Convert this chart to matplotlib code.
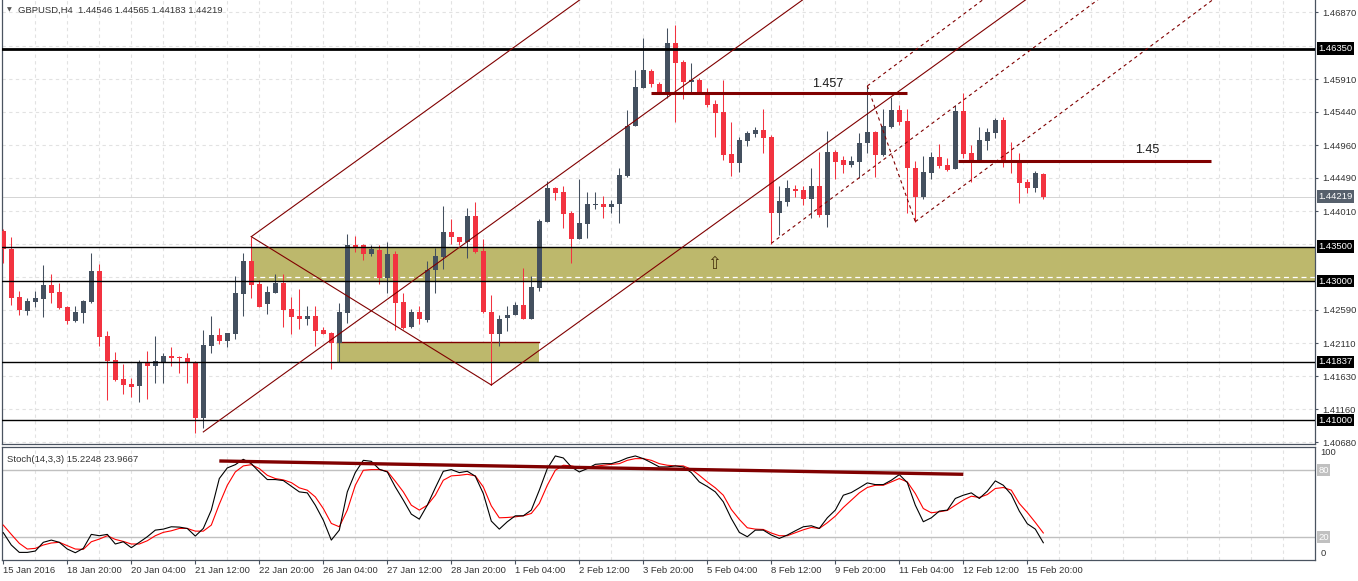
import numpy as np
import matplotlib
matplotlib.use('Agg')
import matplotlib.pyplot as plt
import matplotlib.transforms as mtrans

plt.rcParams['font.family'] = ['Liberation Sans', 'DejaVu Sans']

# ---------------- data (GBPUSD H4, bar index 0 = 15 Jan 2016 12:00) ----------------
opens = [1.43724, 1.43464, 1.42769, 1.42576, 1.42706, 1.42744, 1.42946, 1.42845, 1.42625, 1.42423,
         1.42547, 1.42706, 1.43148, 1.42212, 1.41866, 1.41592, 1.41520, 1.41496, 1.41842, 1.41784,
         1.41827, 1.41924, 1.41905, 1.41895, 1.41818, 1.41035, 1.42072, 1.42222, 1.42144, 1.42245,
         1.42821, 1.43292, 1.42960, 1.42665, 1.42835, 1.42975, 1.42600, 1.42500, 1.42452, 1.42500,
         1.42298, 1.42250, 1.42115, 1.42547, 1.43518, 1.43522, 1.43397, 1.43446, 1.43051, 1.43392,
         1.42701, 1.42345, 1.42557, 1.42442, 1.43158, 1.43354, 1.43709, 1.43633, 1.43569, 1.43944,
         1.43436, 1.42553, 1.42236, 1.42475, 1.42518, 1.42654, 1.42461, 1.42907, 1.43858, 1.44347,
         1.44285, 1.43983, 1.43613, 1.43829, 1.44102, 1.44112, 1.44065, 1.44108, 1.44516, 1.45236,
         1.45787, 1.46028, 1.45836, 1.45711, 1.46431, 1.46157, 1.45874, 1.45898, 1.45730, 1.45552,
         1.45437, 1.44832, 1.44707, 1.45024, 1.45120, 1.45178, 1.45082, 1.43978, 1.44146, 1.44328,
         1.44314, 1.44180, 1.44372, 1.43958, 1.44866, 1.44746, 1.44678, 1.44722, 1.44986, 1.45145,
         1.44822, 1.45225, 1.45466, 1.45308, 1.44626, 1.44218, 1.44563, 1.44785, 1.44674, 1.44616,
         1.45452, 1.44842, 1.44736, 1.45024, 1.45139, 1.45322, 1.44746, 1.44698, 1.44429, 1.44347,
         1.44546]
highs = [1.43752, 1.43642, 1.42860, 1.42754, 1.42860, 1.43234, 1.43104, 1.42979, 1.42644, 1.42644,
         1.42730, 1.43411, 1.43248, 1.42284, 1.41981, 1.41808, 1.41607, 1.41866, 1.41991, 1.42212,
         1.41971, 1.42049, 1.41924, 1.41962, 1.41847, 1.42298, 1.42500, 1.42327, 1.42259, 1.43076,
         1.43402, 1.43642, 1.43018, 1.42932, 1.43100, 1.43100, 1.42773, 1.42888, 1.42644, 1.42644,
         1.42345, 1.42273, 1.42683, 1.43680, 1.43652, 1.43536, 1.43518, 1.43518, 1.43561, 1.43436,
         1.42826, 1.42596, 1.42639, 1.43292, 1.43474, 1.44084, 1.43892, 1.43637, 1.44050, 1.44141,
         1.43604, 1.42802, 1.42518, 1.42644, 1.42701, 1.43186, 1.43076, 1.43892, 1.44448, 1.44362,
         1.44372, 1.44007, 1.44472, 1.44281, 1.44281, 1.44228, 1.44170, 1.44626, 1.45466, 1.46042,
         1.46503, 1.46052, 1.45869, 1.46647, 1.46690, 1.46186, 1.46143, 1.45922, 1.45778, 1.45610,
         1.45898, 1.45298, 1.45082, 1.45164, 1.45217, 1.45480, 1.45106, 1.44372, 1.44458, 1.44386,
         1.44372, 1.44626, 1.44866, 1.45164, 1.44890, 1.44804, 1.44804, 1.45130, 1.45812, 1.45168,
         1.45476, 1.45657, 1.45538, 1.45476, 1.44732, 1.44804, 1.44866, 1.44976, 1.44770, 1.45538,
         1.45706, 1.44962, 1.45221, 1.45211, 1.45355, 1.45361, 1.45010, 1.44851, 1.44468, 1.44592,
         1.44565]
lows = [1.43263, 1.42658, 1.42514, 1.42514, 1.42634, 1.42490, 1.42691, 1.42596, 1.42380, 1.42413,
        1.42394, 1.42691, 1.42068, 1.41290, 1.41564, 1.41381, 1.41338, 1.41266, 1.41309, 1.41530,
        1.41530, 1.41784, 1.41683, 1.41539, 1.40810, 1.40883, 1.41971, 1.42096, 1.42057, 1.42173,
        1.42504, 1.42763, 1.42625, 1.42528, 1.42830, 1.42345, 1.42240, 1.42312, 1.42370, 1.42072,
        1.42240, 1.41741, 1.41842, 1.42403, 1.43425, 1.43310, 1.43364, 1.42965, 1.42835, 1.42298,
        1.42312, 1.42331, 1.42384, 1.42409, 1.42835, 1.43176, 1.43532, 1.43522, 1.43339, 1.43402,
        1.42538, 1.41506, 1.42072, 1.42288, 1.42512, 1.42452, 1.42452, 1.42860, 1.43850, 1.44170,
        1.43771, 1.43267, 1.43605, 1.43627, 1.44045, 1.43915, 1.43987, 1.43843, 1.44497, 1.45230,
        1.45778, 1.45802, 1.45696, 1.45639, 1.45298, 1.45620, 1.45730, 1.45710, 1.45514, 1.45082,
        1.44746, 1.44516, 1.44578, 1.44948, 1.45073, 1.44851, 1.43532, 1.43659, 1.44079, 1.44206,
        1.44098, 1.43906, 1.43930, 1.43785, 1.44468, 1.44563, 1.44650, 1.44482, 1.44842, 1.44497,
        1.44804, 1.45207, 1.45250, 1.43978, 1.43858, 1.44180, 1.44472, 1.44626, 1.44588, 1.44610,
        1.44770, 1.44434, 1.44730, 1.44890, 1.45067, 1.44650, 1.44554, 1.44131, 1.44266, 1.44290,
        1.44183]
closes = [1.43460, 1.42763, 1.42586, 1.42716, 1.42759, 1.42946, 1.42835, 1.42610, 1.42432, 1.42557,
          1.42716, 1.43148, 1.42202, 1.41852, 1.41578, 1.41510, 1.41482, 1.41842, 1.41784, 1.41856,
          1.41928, 1.41890, 1.41895, 1.41818, 1.41035, 1.42082, 1.42222, 1.42144, 1.42255, 1.42831,
          1.43292, 1.42950, 1.42634, 1.42845, 1.42979, 1.42590, 1.42490, 1.42452, 1.42500, 1.42288,
          1.42245, 1.42115, 1.42557, 1.43522, 1.43497, 1.43397, 1.43464, 1.43051, 1.43392, 1.42691,
          1.42331, 1.42557, 1.42452, 1.43162, 1.43364, 1.43709, 1.43633, 1.43569, 1.43944, 1.43425,
          1.42553, 1.42236, 1.42456, 1.42514, 1.42654, 1.42461, 1.42913, 1.43863, 1.44347, 1.44275,
          1.43973, 1.43613, 1.43839, 1.44112, 1.44112, 1.44065, 1.44112, 1.44530, 1.45236, 1.45797,
          1.46042, 1.45836, 1.45711, 1.46431, 1.46147, 1.45874, 1.45898, 1.45715, 1.45538, 1.45427,
          1.44818, 1.44707, 1.45034, 1.45135, 1.45178, 1.45067, 1.43978, 1.44156, 1.44343, 1.44295,
          1.44180, 1.44372, 1.43954, 1.44866, 1.44722, 1.44678, 1.44732, 1.44995, 1.45154, 1.44822,
          1.45236, 1.45466, 1.45298, 1.44626, 1.44218, 1.44569, 1.44785, 1.44660, 1.44602, 1.45452,
          1.44832, 1.44736, 1.45034, 1.45145, 1.45322, 1.44732, 1.44698, 1.44419, 1.44347, 1.44554,
          1.44219]

stoch_k = [24.2, 13.2, 6.6, 6.6, 7.8, 15.6, 17.6, 15.6, 9.6, 6.3,
           10.2, 22.7, 21.5, 22.7, 14.1, 16.1, 10.8, 15.6, 20.6, 26.5,
           27.4, 29.5, 29.2, 28.0, 21.2, 28.0, 44.4, 72.6, 82.1, 85.0,
           89.8, 85.9, 78.5, 71.7, 71.7, 70.8, 65.7, 60.7, 59.8, 48.8,
           35.4, 17.6, 26.5, 60.7, 78.0, 88.9, 88.0, 80.9, 78.5, 65.1,
           53.3, 40.8, 36.3, 48.8, 64.3, 79.1, 80.6, 77.9, 79.1, 74.7,
           59.2, 34.6, 27.4, 34.0, 39.3, 39.3, 44.4, 62.2, 81.5, 92.8,
           91.0, 83.0, 78.5, 81.5, 85.3, 85.9, 85.9, 88.0, 91.0, 92.8,
           90.4, 86.8, 83.0, 83.0, 83.9, 83.0, 77.9, 69.6, 65.5, 60.7,
           51.8, 36.9, 24.5, 20.6, 26.5, 26.5, 22.1, 19.1, 22.1, 25.9,
           29.5, 30.4, 28.0, 37.5, 44.4, 57.7, 60.1, 64.3, 68.7, 67.2,
           67.2, 71.1, 76.1, 69.0, 48.8, 34.0, 37.5, 43.5, 44.4, 54.8,
           57.7, 59.8, 54.8, 61.3, 70.5, 66.6, 58.3, 43.5, 32.2, 27.4,
           15.2248]
stoch_d = [31.0, 22.7, 14.7, 9.6, 10.2, 13.2, 15.0, 15.6, 12.6, 9.6,
           9.3, 16.1, 18.5, 21.5, 18.2, 16.4, 14.1, 14.1, 17.0, 21.5,
           24.5, 25.9, 28.0, 28.0, 25.6, 25.6, 31.0, 49.7, 66.6, 78.5,
           83.9, 85.0, 81.5, 75.5, 72.6, 71.4, 69.0, 64.3, 62.2, 56.2,
           45.8, 32.5, 29.5, 44.4, 66.6, 80.0, 80.6, 80.6, 79.1, 70.2,
           60.7, 48.8, 44.4, 48.8, 57.7, 71.1, 75.0, 75.5, 76.4, 75.0,
           65.1, 48.2, 37.5, 37.8, 38.4, 39.3, 41.4, 50.3, 66.6, 80.0,
           84.5, 83.9, 82.4, 82.4, 83.6, 84.5, 85.3, 85.9, 88.9, 90.4,
           90.4, 88.9, 85.9, 84.5, 83.9, 83.9, 80.9, 75.5, 69.6, 64.3,
           57.7, 45.0, 36.1, 28.6, 27.4, 27.1, 23.9, 21.5, 21.5, 24.2,
           26.8, 28.9, 28.0, 33.1, 39.0, 46.7, 53.3, 59.8, 64.6, 66.6,
           66.6, 69.6, 72.6, 69.6, 59.2, 45.8, 42.0, 42.9, 44.1, 48.8,
           53.3, 56.8, 55.7, 58.3, 63.7, 64.6, 62.2, 50.3, 42.3, 33.4,
           23.9667]

date_labels = ["15 Jan 2016", "18 Jan 20:00", "20 Jan 04:00", "21 Jan 12:00", "22 Jan 20:00",
               "26 Jan 04:00", "27 Jan 12:00", "28 Jan 20:00", "1 Feb 04:00", "2 Feb 12:00",
               "3 Feb 20:00", "5 Feb 04:00", "8 Feb 12:00", "9 Feb 20:00", "11 Feb 04:00",
               "12 Feb 12:00", "15 Feb 20:00"]
date_label_step = 8

price_ticks = [1.46870, 1.45910, 1.45440, 1.44960, 1.44490, 1.44010,
               1.42590, 1.42110, 1.41630, 1.41160, 1.40680]
hidden_grid_prices = [1.46390, 1.43530, 1.43060]
level_prices = [1.46350, 1.43500, 1.43000, 1.41837, 1.41000]
level_widths = [2.0, 1.0, 1.0, 1.0, 1.0]
last_price = 1.44219

zone_top, zone_bottom, zone_start_bar = 1.43500, 1.43000, 31
zone_dash_price = 1.43060
box2_left, box2_right, box2_bottom, box2_top = 41.7, 66.9, 1.41837, 1.42120

fork1_bars = [25, 31, 61]
fork1_prices = [1.40830, 1.43642, 1.41506]
fork2_bars = [96, 108, 114]
fork2_prices = [1.43546, 1.45812, 1.43858]

seg_457 = (81, 113, 1.45715)
seg_45 = (119.3, 151, 1.44736)
text_457 = (103, 1.45840, "1.457")
text_45 = (143, 1.44890, "1.45")
arrow_pos = (88.9, 1.43250)

stoch_trend_bars = [27, 120]
stoch_trend_vals = [88.3, 76.4]

title = "GBPUSD,H4  1.44546 1.44565 1.44183 1.44219"
stoch_title = "Stoch(14,3,3) 15.2248 23.9667"

# ---------------- styles ----------------
BULL = '#44505F'
BEAR = '#F23340'
DARKRED = '#800000'
OLIVE = '#BDB86C'
GRID = '#E2E2E2'
AXC = '#4A5360'
TXT = '#333333'
FS = 6.8

W, H = 1358, 581
fig = plt.figure(figsize=(W / 100, H / 100), dpi=100)
fig.patch.set_facecolor('white')

def fx(px):
    return px / W

def fy(py):
    return 1 - py / H

ax = fig.add_axes([fx(2), fy(444), fx(1315) - fx(2), fy(0) - fy(444)])
ax2 = fig.add_axes([fx(2), fy(560), fx(1315) - fx(2), fy(447) - fy(560)])

XL = (-0.1625, 163.96)
n = len(opens)
idx = np.arange(n)
o = np.array(opens); h = np.array(highs); l = np.array(lows); c = np.array(closes)

for a in (ax, ax2):
    a.set_xlim(*XL)
    a.spines['top'].set_visible(False)
    for s in ('left', 'right', 'bottom'):
        a.spines[s].set_color(AXC)
        a.spines[s].set_linewidth(0.9)
    a.set_facecolor('white')
ax2.spines['top'].set_visible(True)
ax2.spines['top'].set_color(AXC)
ax2.spines['top'].set_linewidth(0.9)

ax.set_ylim(1.40656, 1.47050)
ax2.set_ylim(-0.2, 100.8)

# grid
grid_x = np.arange(4, 164, 4)
for a in (ax, ax2):
    for gx in grid_x:
        a.axvline(gx, color=GRID, lw=0.8, ls=(0, (3, 3)), zorder=0.5)
for gp in price_ticks + hidden_grid_prices:
    ax.axhline(gp, color=GRID, lw=0.8, ls=(0, (3, 3)), zorder=0.5)

# zones
ax.fill_between([zone_start_bar, 200], zone_bottom, zone_top, color=OLIVE, lw=0, zorder=1)
ax.plot([zone_start_bar, 200], [zone_dash_price, zone_dash_price], color='white', lw=0.9,
        ls=(0, (4, 3)), zorder=1.2)
ax.fill_between([box2_left, box2_right], box2_bottom, box2_top, color=OLIVE, lw=0, zorder=1)
ax.plot([box2_left, box2_right], [box2_top, box2_top], color=DARKRED, lw=1.0, zorder=1.3)

# bid line
ax.axhline(last_price, color='#D4D4D4', lw=0.7, zorder=1.1)

# candles
up = c >= o
colors = np.where(up, BULL, BEAR)
ax.vlines(idx, l, h, colors=colors, lw=0.75, zorder=3)
body_bot = np.minimum(o, c)
body_h = np.maximum(np.abs(c - o), 0.00004)
ax.bar(idx, body_h, bottom=body_bot, width=0.62, color=colors, lw=0, zorder=3.1)

# horizontal levels
for p, w in zip(level_prices, level_widths):
    ax.axhline(p, color='black', lw=w, zorder=4)

# pitchforks
def pitchfork(a, bars, prices, style, lw):
    ax_, bx, cx = bars
    ap, bp, cp = prices
    mx, mp = (bx + cx) / 2, (bp + cp) / 2
    slope = (mp - ap) / (mx - ax_)
    xe = 200
    for x0, p0 in ((ax_, ap), (bx, bp), (cx, cp)):
        a.plot([x0, xe], [p0, p0 + slope * (xe - x0)], color=DARKRED, lw=lw, ls=style, zorder=4.2)
    a.plot([bx, cx], [bp, cp], color=DARKRED, lw=lw, ls=style, zorder=4.2)

pitchfork(ax, fork1_bars, fork1_prices, '-', 0.8)
pitchfork(ax, fork2_bars, fork2_prices, (0, (3, 3)), 0.8)

# resistance segments
for x0, x1, p in (seg_457, seg_45):
    ax.plot([x0, x1], [p, p], color=DARKRED, lw=2.2, solid_capstyle='butt', zorder=4.5)
for tx, tp, s in (text_457, text_45):
    ax.text(tx, tp, s, fontsize=9, color='#1A1A1A', ha='center', va='center', zorder=5)
ax.text(arrow_pos[0], arrow_pos[1], '\u21e7', fontsize=12, color='#4A3510', ha='center',
        va='center', family='DejaVu Sans', zorder=5)

# price axis
ax.yaxis.tick_right()
ax.set_yticks(price_ticks)
ax.set_yticklabels([f"{p:.5f}" for p in price_ticks])
ax.tick_params(axis='y', which='both', length=2.5, width=0.8, color=AXC, pad=2.5,
               labelsize=FS, labelcolor=TXT)
ax.set_xticks([])

tr = mtrans.blended_transform_factory(ax.transAxes, ax.transData)
for p in level_prices:
    ax.text(1.0025, p, f"{p:.5f}", transform=tr, fontsize=FS, color='white', ha='left',
            va='center', bbox=dict(boxstyle='square,pad=0.18', fc='black', ec='none'),
            zorder=10, clip_on=False)
ax.text(1.0025, last_price, f"{last_price:.5f}", transform=tr, fontsize=FS, color='white',
        ha='left', va='center', bbox=dict(boxstyle='square,pad=0.18', fc='#56606C', ec='none'),
        zorder=10, clip_on=False)

# stochastic
ax2.axhline(80, color='#C0C0C0', lw=1.0, zorder=1)
ax2.axhline(20, color='#C0C0C0', lw=1.0, zorder=1)
ax2.plot(idx, stoch_d, color='#FF0000', lw=0.8, zorder=3)
ax2.plot(idx, stoch_k, color='black', lw=0.8, zorder=3.1)
ax2.plot(stoch_trend_bars, stoch_trend_vals, color=DARKRED, lw=2.4, solid_capstyle='butt', zorder=4)
ax2.set_yticks([])
tr2 = mtrans.blended_transform_factory(ax2.transAxes, ax2.transData)
ax2.text(1.004, 95.5, "100", transform=tr2, fontsize=FS, color=TXT, ha='left', va='center', clip_on=False)
ax2.text(1.004, 5.5, "0", transform=tr2, fontsize=FS, color=TXT, ha='left', va='center', clip_on=False)
for v in (80, 20):
    ax2.text(1.0025, v, str(v), transform=tr2, fontsize=FS, color='white', ha='left', va='center',
             bbox=dict(boxstyle='square,pad=0.15', fc='#C0C0C0', ec='none'), clip_on=False)
ax2.text(0.004, 0.89, stoch_title, transform=ax2.transAxes, fontsize=FS, color=TXT,
         ha='left', va='center')

xt = np.arange(len(date_labels)) * date_label_step
ax2.set_xticks(xt)
ax2.set_xticklabels(date_labels)
ax2.tick_params(axis='x', length=3, width=0.8, color=AXC, pad=1.5, labelsize=FS, labelcolor=TXT)
for lab in ax2.get_xticklabels():
    lab.set_ha('left')

# title
fig.text(fx(18), fy(10), title, fontsize=FS, color=TXT, ha='left', va='center')
fig.text(fx(9), fy(10), '\u25bc', fontsize=4.5, color='#555555', ha='center', va='center',
         family='DejaVu Sans')

fig.savefig('out.png', dpi=100, facecolor='white')
